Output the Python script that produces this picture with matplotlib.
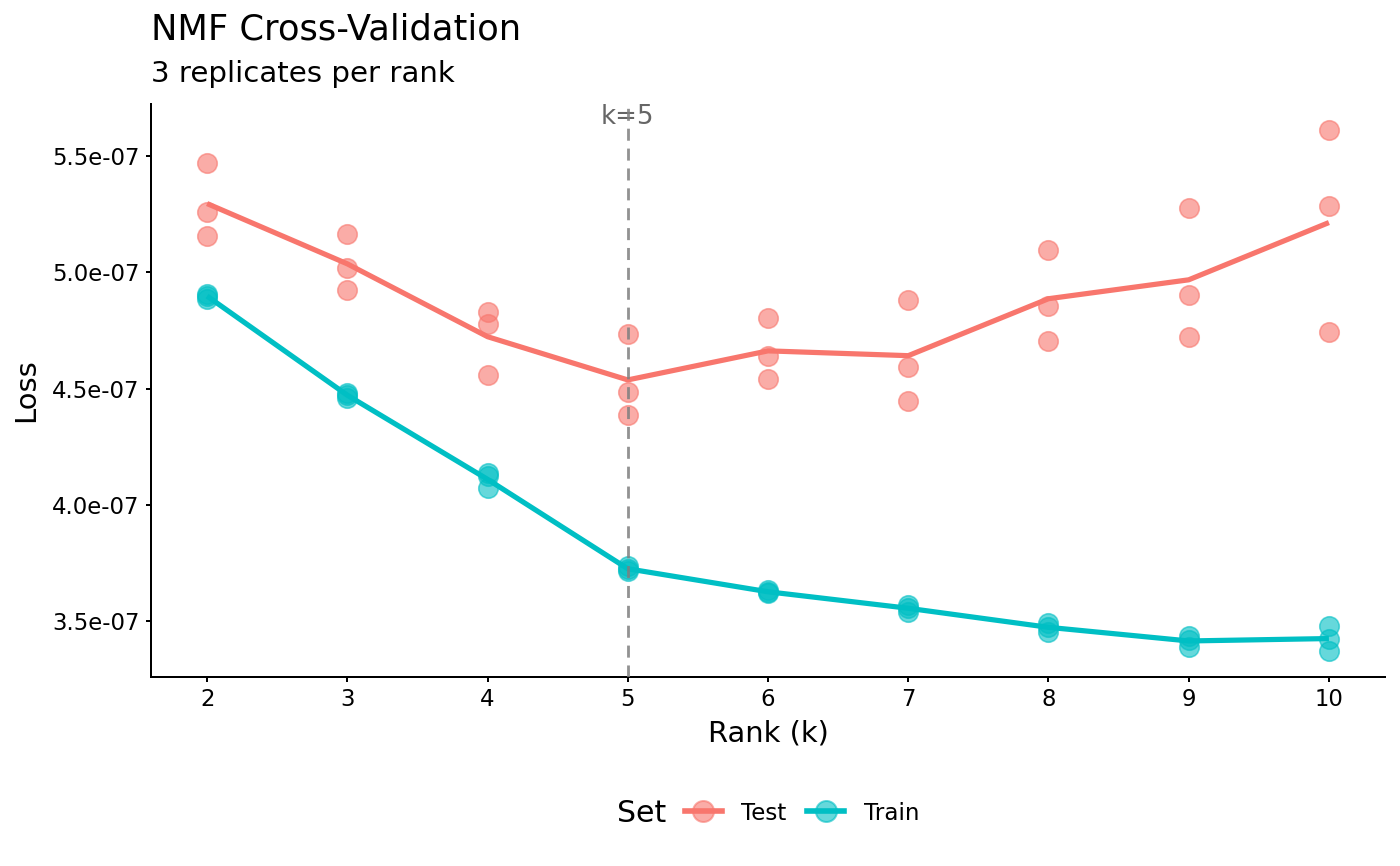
import numpy as np
import matplotlib
matplotlib.use("Agg")
import matplotlib.pyplot as plt
from matplotlib.colors import to_rgba
from matplotlib.lines import Line2D

# =========================================================
# Data (loss in units of 1e-7)
# =========================================================
ranks = [2, 3, 4, 5, 6, 7, 8, 9, 10]

test_reps = [
    [5.470, 5.260, 5.157],
    [5.165, 5.019, 4.925],
    [4.830, 4.779, 4.560],
    [4.736, 4.487, 4.388],
    [4.805, 4.642, 4.539],
    [4.882, 4.594, 4.448],
    [5.097, 4.856, 4.706],
    [5.277, 4.903, 4.723],
    [5.612, 5.285, 4.745],
]

train_reps = [
    [4.908, 4.899, 4.886],
    [4.479, 4.474, 4.461],
    [4.135, 4.122, 4.071],
    [3.736, 3.723, 3.715],
    [3.633, 3.624, 3.620],
    [3.569, 3.556, 3.539],
    [3.491, 3.474, 3.453],
    [3.436, 3.418, 3.388],
    [3.479, 3.423, 3.371],
]

best_k = 5
y_ticks = [3.5e-07, 4.0e-07, 4.5e-07, 5.0e-07, 5.5e-07]

TEST_COLOR = "#F8766D"
TRAIN_COLOR = "#00BFC4"

# =========================================================
# Figure
# =========================================================
DPI = 144
fig = plt.figure(figsize=(1400 / DPI, 866 / DPI), dpi=DPI)
ax = fig.add_axes([151 / 1400, 1 - 677 / 866, (1385 - 151) / 1400, (677 - 104) / 866])

series = [("Test", test_reps, TEST_COLOR), ("Train", train_reps, TRAIN_COLOR)]

for name, reps, color in series:
    reps = np.array(reps) * 1e-7
    xs = np.repeat(ranks, reps.shape[1])
    ax.scatter(xs, reps.ravel(), s=95, color=color, alpha=0.6,
               edgecolors=color, linewidths=0.8, zorder=2)
    ax.plot(ranks, reps.mean(axis=1), color=color, lw=2.6, zorder=3,
            solid_capstyle="butt")

# axis limits like ggplot's 5% expansion
all_vals = np.concatenate([np.ravel(test_reps), np.ravel(train_reps)]) * 1e-7
lo, hi = all_vals.min(), all_vals.max()
pad = (hi - lo) * 0.05
ax.set_ylim(lo - pad, hi + pad)
ax.set_xlim(ranks[0] - 0.4, ranks[-1] + 0.4)

# best rank marker
ax.text(best_k, hi + pad, f"k={best_k}", ha="center", va="top",
        fontsize=13, color="#666666", zorder=4)
ax.axvline(best_k, color="#7F7F7F", lw=1.4, ls=(0, (4.3, 2.8)), alpha=0.85, zorder=5)

ax.set_xticks(ranks)
ax.set_xticklabels([str(r) for r in ranks])
ax.set_yticks(y_ticks)
ax.set_yticklabels([f"{v:.1e}" for v in y_ticks])

for side in ["top", "right"]:
    ax.spines[side].set_visible(False)
for side in ["left", "bottom"]:
    ax.spines[side].set_linewidth(1.0)
ax.tick_params(axis="both", length=2.7, width=1.0, labelsize=11.4, color="black",
               labelcolor="black", pad=3)

ax.set_xlabel("Rank (k)", fontsize=14.5, labelpad=4)
ax.set_ylabel("Loss", fontsize=14.5, labelpad=6)

fig.text(151 / 1400, 1 - 30 / 866, "NMF Cross-Validation", fontsize=17.6,
         ha="left", va="center")
fig.text(151 / 1400, 1 - 74 / 866, "3 replicates per rank", fontsize=14.6,
         ha="left", va="center")

# legend at the bottom: title on the left, entries next to it
leg_y = 1 - 813 / 866
fig.text(617 / 1400, leg_y, "Set", fontsize=15, ha="left", va="center")
handles = [Line2D([0], [0], color=c, lw=2.8, marker="o", markersize=10.5,
                  markerfacecolor=to_rgba(c, 0.6), markeredgecolor=to_rgba(c, 0.6))
           for _, _, c in series]
fig.legend(handles, [s[0] for s in series], ncol=2,
           loc="center left", bbox_to_anchor=(685 / 1400, leg_y),
           frameon=False, fontsize=11.5, borderpad=0, borderaxespad=0,
           handlelength=1.6, columnspacing=0.9, handletextpad=0.85)

fig.savefig("out.png", dpi=DPI)
